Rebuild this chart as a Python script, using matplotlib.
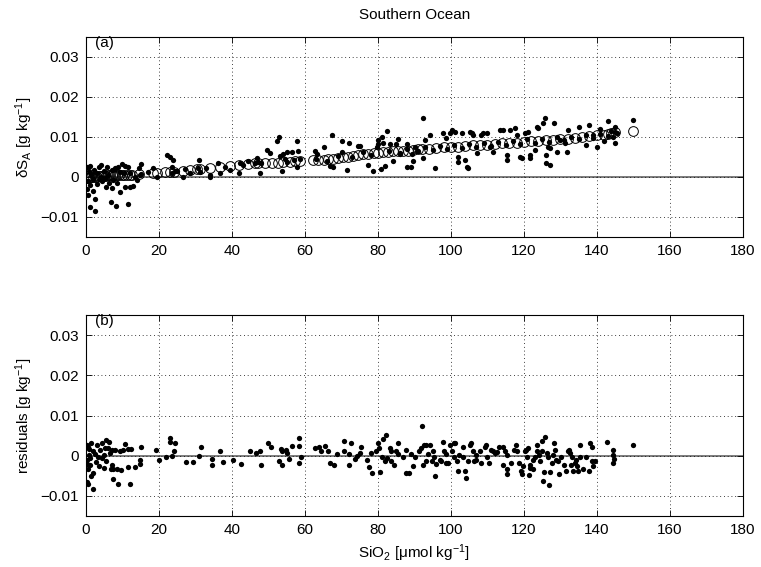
import numpy as np
import matplotlib
matplotlib.use('Agg')
import matplotlib.pyplot as plt

plt.rcParams['font.family'] = ['Liberation Sans', 'DejaVu Sans']
plt.rcParams['font.size'] = 11
plt.rcParams['mathtext.default'] = 'regular'

# panel (a): measured dSA (dots), values in 1e-3 g/kg
dot_x = [0.3, 0.8, 1.2, 1.5, 2.0, 0.5, 1.0, 0.2, 1.8, 0.5, 2.5, 1.0, 2.5, 3.0, 3.5, 4.0, 4.5,
         5.0, 5.5, 6.0, 3.0, 4.2, 5.8, 2.2, 3.8, 6.2, 5.2,
         7.1, 8.0, 8.9, 9.8, 10.7, 11.6, 9.3, 10.3, 12.1, 7.5, 8.4, 9.3, 10.7, 12.1, 13.0, 7.1,
         6.9, 8.2, 11.6, 13.9, 14.4, 15.0, 13.4, 14.8, 18.5, 19.4, 22.1, 22.9, 23.8, 23.5, 24.4,
         23.5, 26.7, 28.5, 31.1, 30.8, 31.3, 34.0, 34.0, 36.3, 36.7, 39.5, 41.8, 42.2, 44.5,
         15.0, 17.0, 25.0, 27.0, 33.0, 38.0, 43.0, 48.0, 55.0, 57.0,
         46.8, 46.3, 47.2, 47.7, 49.5, 50.3,
         52.3, 53.0, 53.2, 54.5, 53.9, 53.6, 55.0, 56.4, 57.9, 58.2, 57.7, 58.7, 62.8, 63.2,
         65.1, 66.9, 67.3, 67.6, 70.1, 70.3, 71.6, 72.2, 74.6, 75.1, 77.4, 78.6, 79.7, 80.1,
         80.1, 80.8, 81.0, 81.5, 81.9, 82.4, 83.3, 84.2, 85.1, 85.6, 86.1, 87.9, 88.1, 89.0,
         89.3, 89.7, 90.2, 90.6,
         92.5, 92.5, 92.9, 94.3, 95.7, 97.9, 98.8, 99.8, 100.2, 101.1, 102.0, 102.0, 103.9,
         104.3, 104.8, 103.0, 105.2, 105.7, 106.1, 107.1, 108.4, 108.9, 109.8, 110.7, 111.6,
         113.5, 114.4, 115.3, 115.3, 116.2, 117.6, 118.0, 118.9, 119.4, 120.3, 121.2, 121.7,
         121.7, 123.0, 123.5, 123.9, 125.3, 125.8, 126.1, 126.7, 127.2, 126.2, 127.2, 128.3,
         129.0, 129.9, 131.3, 131.7, 132.2,
         135.0, 137.0, 138.0, 139.0, 140.0, 141.0, 142.0, 143.0, 144.0, 144.5, 145.0, 145.0,
         145.5, 150.0,
         63, 66, 69, 73, 76, 78, 83, 86, 88, 91, 93, 95, 97, 99, 101, 103, 105, 107, 109, 111,
         113, 115, 117, 119, 121, 123, 125, 127, 129, 131, 133, 135, 137, 139, 141, 143, 145]
dot_y = [2.5, 1.5, 2.8, 0.5, -0.5, -1.0, -2.0, -3.0, -3.5, -4.5, -5.5, -7.5, -8.5, 1.0, 2.5,
         0.0, -1.0, 1.5, -2.5, 0.5, -1.8, 3.0, 2.5, 1.8, -0.5, -1.5, -0.3,
         1.75, 2.2, 2.6, 3.2, 2.75, 2.4, 1.3, 0.9, 0.9, -0.75, -1.6, -3.7, -2.6, -2.4, -2.25,
         -2.8, -6.2, -7.25, -6.75, -0.75, 2.2, 3.2, 0.1, 0.5, 2.2, 0.1, 5.5, 4.9, 4.25, 2.6,
         1.6, 1.1, 0.1, 1.1, 4.25, 2.2, 1.3, 0.5, 0.1, 3.6, 1.1, 1.75, 1.1, 3.4, 4.1,
         0.8, 1.2, 1.5, 2.0, 2.3, 2.5, 3.0, 3.6, 3.7, 4.3,
         4.7, 3.4, 3.8, 0.9, 6.75, 5.9,
         9.1, 10.1, 5.3, 4.5, 5.75, 1.6, 6.2, 6.2, 9.1, 6.6, 2.4, 4.5, 6.6, 5.75,
         7.4, 2.8, 10.5, 2.4, 9.1, 6.2, 1.75, 8.4, 7.8, 7.8, 3.1, 1.6, 7.4, 9.25,
         8.25, 2.0, 10.1, 8.4, 2.8, 11.4, 8.25, 4.1, 8.25, 9.5, 5.75, 8.25, 2.4, 2.4,
         5.75, 4.1, 7.4, 6.6,
         14.7, 4.7, 9.25, 10.5, 2.2, 11.1, 9.7, 10.9, 11.75, 11.3, 5.1, 3.8, 4.25,
         2.4, 2.2, 10.9, 11.3, 10.9, 10.5, 5.9, 10.5, 10.9, 10.9, 7.6, 6.3,
         11.75, 11.75, 5.5, 4.25, 11.75, 12.2, 10.5, 5.1, 4.7, 10.9, 11.3, 5.5,
         4.7, 6.75, 12.6, 12.2, 13.6, 14.7, 5.5, 7.6, 3.0, 3.4, 7.2, 13.6,
         6.3, 9.25, 8.4, 6.3, 11.75,
         12.5, 8.0, 13.0, 10.5, 7.5, 12.0, 9.0, 14.0, 11.5, 10.0, 12.5, 8.5,
         11.0, 14.3,
         4.5, 4.0, 5.2, 5.0, 6.2, 5.5, 6.5, 6.0, 7.0, 6.5, 7.5, 6.8, 7.8, 7.0, 8.0, 7.2, 8.3,
         7.5, 8.6, 7.8, 8.8, 8.0, 9.0, 8.2, 9.4, 8.6, 9.6, 8.8, 9.9, 9.2, 10.1, 9.4, 10.5,
         9.8, 10.8, 10.3, 11.3]

# panel (a): fitted values (open circles)
fit_x = [0, 0.5, 1, 1.5, 2, 2.5, 3, 3.5, 4, 4.5, 5, 5.5, 6, 6.5, 7, 7.3, 8, 8.4, 9, 9.8,
         10.5, 11.2, 12, 12.5, 14.6, 18.3, 19.4, 21.7, 23.0, 24.0, 26.5, 28.5, 30.5, 31.3,
         34.0, 36.7, 39.5, 41.8, 44.5, 46.3, 47.2, 49.1, 50.9, 52.7, 54.1, 55.9, 57.3, 58.7,
         62.3, 63.7, 65.1, 66.4, 67.8, 69.2, 70.5, 71.9, 73.3, 74.6, 76.0, 77.4, 78.8, 80.1,
         81.5, 82.9, 84.2, 85.6, 87.0, 88.3, 89.7, 91.1, 92, 94, 96, 98, 100, 102, 104, 106,
         108, 110, 112, 114, 116, 118, 120, 122, 124, 126, 128, 130, 132, 134, 136, 138, 140,
         142, 143, 144, 145, 150]
fit_y = [-0.3, -0.2, -0.1, 0.0, 0.0, 0.1, 0.1, 0.2, 0.2, 0.3, 0.3, 0.3, 0.4, 0.4, 0.4, 0.5,
         0.5, 0.5, 0.5, 0.5, 0.5, 0.5, 0.5, 0.5, 0.7, 0.9, 0.9, 1.2, 1.2, 1.3, 1.5, 1.75, 2.0,
         2.1, 2.2, 2.6, 2.8, 3.0, 3.25, 3.4, 3.4, 3.5, 3.5, 3.6, 3.7, 3.8, 3.9, 4.1,
         4.25, 4.25, 4.3, 4.5, 4.6, 4.7, 4.9, 5.1, 5.25, 5.5, 5.75, 5.75, 5.9, 6.0,
         6.2, 6.2, 6.4, 6.4, 6.6, 6.6, 6.75, 6.9, 7.0, 7.1, 7.25, 7.4, 7.5, 7.6, 7.8, 7.9,
         8.0, 8.1, 8.25, 8.4, 8.5, 8.6, 8.75, 8.9, 9.0, 9.2, 9.3, 9.5, 9.6, 9.8, 10.0, 10.2,
         10.4, 10.6, 10.8, 10.9, 11.2, 11.5]

# panel (b): residuals, values in 1e-3 g/kg
res_x = [1.5, 0.6, 2.0, 0.9, 0.2, 1.1, 0.6, 1.5, 0.5, 2.0, 4.3, 5.6, 6.4, 3.8, 5.2, 6.5, 4.3,
         5.6, 7.0, 3.6, 7.5, 8.4, 9.7, 9.3, 10.2, 11.5, 10.6, 12.2, 7.3, 8.8, 12.0, 11.5, 13.4,
         14.7, 14.7, 15.2, 19.3, 20.0, 22.0, 22.9, 23.1, 24.3, 24.0, 23.6, 27.5, 29.3, 31.1,
         31.5, 34.5, 34.5, 36.7, 37.5, 40.4, 42.5, 45.0, 46.5, 47.6, 47.9, 50.0, 50.6, 53.4,
         53.8, 54.7, 55.2, 52.9, 53.8, 55.6, 56.5, 58.4, 58.4, 58.8, 58.4, 62.9, 63.8, 64.5,
         65.6, 66.4, 67.0, 67.9, 68.8, 70.6, 70.6, 72.0, 72.5, 72.0, 73.6, 74.3, 75.2, 75.5,
         0.3, 0.8, 1.2, 0.4, 1.8, 0.2, 2.5, 3.0, 3.3, 4.8, 2.8, 6.0, 7.0, 8.0, 5.0, 6.8,
         76.9, 77.5, 78.2, 78.5, 79.4, 80.1, 80.2, 80.7, 81.4, 81.2, 81.9, 82.3, 82.5, 83.3,
         83.7, 83.7, 84.4, 85.1, 85.5, 85.4, 86.9, 87.6, 87.8, 88.6, 89.0, 89.6, 90.1, 91.3,
         91.7, 92.2, 92.4, 92.6, 93.1, 93.8, 93.3, 94.4, 94.7, 95.1, 95.6, 95.4, 96.0, 97.0,
         97.4, 97.9, 98.1, 98.6, 98.8, 99.2, 99.9, 100.4, 100.8, 101.1, 100.8, 101.7, 102.0,
         102.3, 103.2, 103.3, 103.8, 104.1, 104.7, 105.2, 105.6, 106.1, 106.3, 106.8, 107.0,
         107.9, 108.4, 109.3, 109.7, 109.9, 110.5, 111.1, 111.6, 112.0, 112.7, 113.2,
         114.4, 114.8, 115.3, 114.2, 115.4, 115.4, 116.6, 117.3, 117.8, 118.0, 118.7, 119.1,
         119.6, 119.8, 120.3, 120.7, 120.9, 121.2, 121.5, 121.7, 121.8, 122.4, 122.6, 123.0,
         123.5, 123.7, 124.2, 124.4, 124.9, 125.1, 125.5, 125.3, 125.8, 126.4, 126.7, 127.0,
         127.3, 127.6, 128.1, 128.3, 128.5, 128.8, 129.4, 129.7, 130.3, 131.0, 131.5, 132.2,
         132.4, 132.6, 132.8, 133.1, 133.5, 134.0, 134.3, 134.6, 134.9, 135.4, 135.5, 136.3,
         137.0, 137.9, 138.1, 138.6, 138.8, 139.0, 139.5, 142.9, 144.5, 144.5, 144.8, 144.5,
         150.0]
res_y = [3.1, 2.3, 1.1, 0.2, -1.0, -2.2, -3.4, -5.0, -7.1, -8.3, 3.1, 3.9, 3.5, 1.5, 1.9,
         0.7, -0.6, -1.4, -2.2, -2.6, -3.4, -3.4, -3.6, 1.1, 1.5, 1.6, 2.9, 1.6, -5.9, -7.1,
         -7.1, -2.8, -2.8, -1.1, -2.0, 2.3, 1.5, -1.0, -0.3, 4.3, 3.5, 3.1, 1.1, 0.0, -1.6,
         -1.6, 0.0, 2.3, -0.8, -2.2, 1.1, -1.6, -1.0, -2.0, 1.1, 0.8, 1.1, -2.4, 3.3, 2.3,
         1.6, 1.1, 1.5, 0.8, -1.4, -2.2, -0.8, 2.4, 4.3, 2.4, -0.2, -1.8, 1.9, 2.3, 1.1, 2.4,
         1.1, -1.8, -2.2, 0.5, 3.7, 1.1, -2.4, 3.3, 0.5, -0.8, 0.0, 0.8, 2.3,
         2.8, 1.8, -0.5, -2.0, -4.2, -6.5, 0.5, 2.6, -0.2, 0.3, -1.5, 2.0, 1.5, 1.4, -3.0, -3.2,
         -1.0, -2.8, 0.7, -4.2, 1.2, 3.1, 2.0, -4.0, 4.1, -0.2, -1.2, 5.1, -0.6, 1.9,
         1.1, -1.2, -2.4, 1.1, 3.1, 0.5, -0.2, -4.2, 1.5, -4.2, 0.4, -2.6, -0.2, 1.1,
         1.9, 7.3, -2.4, 2.7, 2.7, 0.4, -1.4, 2.8, -1.4, 1.1, -5.0, -0.2, -2.0, -1.0,
         -1.2, 3.5, 1.2, -1.8, 0.4, -1.8, 2.7, 1.1, 3.1, 3.3, -0.4, -1.4, -3.8,
         0.2, 2.3, -0.4, -3.8, -5.6, -1.4, 2.7, 3.1, 1.1, -1.2, 0.1, -1.0,
         1.1, -1.8, 2.3, 2.7, -0.4, -1.8, 1.5, 1.1, 0.8, 0.9, 2.3,
         2.3, 1.1, 0.2, -2.2, -3.4, -4.6, -1.8, 1.5, 2.8, 1.1, -1.8, -3.8,
         -4.5, -2.6, 1.1, 1.5, -0.2, 1.9, -4.8, -2.2, -3.0, -1.0, -3.4, -0.2,
         2.7, 1.1, 0.2, -1.4, 1.1, 3.7, -4.1, -6.3, 4.7, 0.7, -0.2, -7.2,
         -4.0, -1.8, 0.2, 3.3, 1.5, -1.0, -1.4, -4.5, -0.2, -2.2, -3.8, 1.1,
         1.5, 0.7, -2.2, -0.2, -3.8, -1.8, -1.0, -2.6, -3.8, 2.8, -0.2, -3.4,
         -0.2, -3.8, 3.1, -1.2, 2.3, -2.6, -1.2, 3.5, 1.5, 0.3, -0.8, -1.8,
         2.8]

xticks = [0, 20, 40, 60, 80, 100, 120, 140, 160, 180]
yticks = [-0.01, 0, 0.01, 0.02, 0.03]
ytick_labels = ['\u22120.01', '0', '0.01', '0.02', '0.03']

dot_y = np.array(dot_y) * 1e-3
fit_y = np.array(fit_y) * 1e-3
res_y = np.array(res_y) * 1e-3

fig = plt.figure(figsize=(7.61, 5.67), dpi=100)
ax1 = fig.add_axes([0.113, 0.582, 0.863, 0.353])
ax2 = fig.add_axes([0.113, 0.090, 0.863, 0.354])


def style(ax, label):
    ax.set_xlim(0, 180)
    ax.set_ylim(-0.015, 0.035)
    ax.set_xticks(xticks)
    ax.set_yticks(yticks)
    ax.set_yticklabels(ytick_labels)
    ax.tick_params(direction='in', top=True, right=True, length=4, width=0.6, pad=5)
    ax.grid(True, linestyle=':', color='k', linewidth=0.6, dashes=(1, 3.5))
    ax.axhline(0, color='0.35', linewidth=1.1, zorder=1)
    for s in ax.spines.values():
        s.set_linewidth(0.8)
    ax.text(2.6, 0.0335, label, ha='left', va='center', fontsize=11)


ax1.plot(fit_x, fit_y, 'o', markerfacecolor='none', markeredgecolor='k',
         markersize=7.0, markeredgewidth=0.7, zorder=2)
ax1.plot(dot_x, dot_y, 'o', color='k', markersize=3.8, markeredgewidth=0, zorder=3)
style(ax1, '(a)')
ax1.set_ylabel('\u03b4S$_{A}$ [g kg$^{-1}$]')
ax1.set_title('Southern Ocean', fontsize=11, pad=13)

ax2.plot(res_x, res_y, 'o', color='k', markersize=3.8, markeredgewidth=0, zorder=2)
style(ax2, '(b)')
ax2.set_ylabel('residuals [g kg$^{-1}$]')
ax2.set_xlabel('SiO$_{2}$ [\u03bcmol kg$^{-1}$]')

fig.savefig('out.png', dpi=100)
